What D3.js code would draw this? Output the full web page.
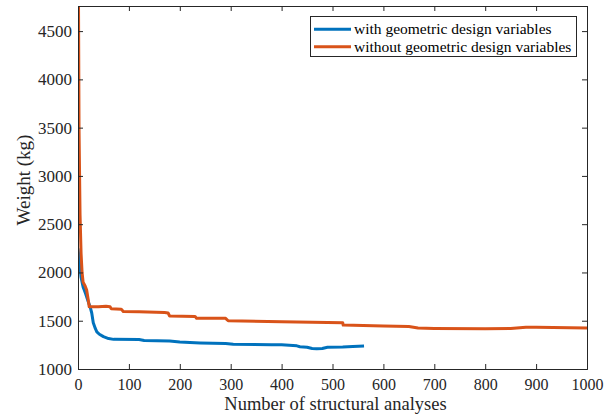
<!DOCTYPE html>
<html><head><meta charset="utf-8">
<script src="https://cdn.jsdelivr.net/npm/d3@7"></script>
<style>body{margin:0;background:#fff}svg{display:block}</style>
</head><body><svg id="c" width="613" height="419"></svg>
<script>
const xTicks = [0,100,200,300,400,500,600,700,800,900,1000];
const yTicks = [1000,1500,2000,2500,3000,3500,4000,4500];
const seriesNames = ["with geometric design variables","without geometric design variables"];
const seriesColors = ["#0072BD","#D95319"];
const withX = [0,3,6,10,15,20,24,27,30,34,37,42,50,60,70,120,130,180,200,230,240,290,305,380,400,430,436,450,460,469,480,490,520,540,562];
const withY = [2250,2100,1950,1850,1780,1700,1640,1580,1480,1420,1385,1360,1335,1315,1307,1305,1295,1290,1280,1272,1270,1265,1256,1252,1250,1240,1231,1225,1212,1210,1212,1225,1228,1233,1237];
const withoutX = [0,1,2,4,6,8,10,14,17,20,22,40,55,63,65,85,89,120,170,177,180,230,233,290,295,400,520,521,600,650,668,700,800,850,880,900,1000];
const withoutY = [4760,4760,3500,2600,2200,2000,1900,1860,1818,1720,1645,1645,1650,1645,1625,1620,1595,1592,1585,1580,1549,1545,1525,1525,1500,1490,1480,1455,1445,1440,1424,1420,1418,1420,1432,1432,1424];

const FONT = '"Liberation Serif", "Times New Roman", Times, serif';
const svg = d3.select("#c");
const L=78,R=587,T=6,B=369;
const x = d3.scaleLinear().domain([0,1000]).range([L,R]);
const y = d3.scaleLinear().domain([1000,4760]).range([B,T]);
const ax = "#262626";

const line = d3.line().x(d=>x(d[0])).y(d=>y(d[1])).curve(d3.curveLinear);
const data = [d3.zip(withX,withY), d3.zip(withoutX,withoutY)];
svg.append("defs").append("clipPath").attr("id","cp").append("rect").attr("x",L).attr("y",T).attr("width",R-L).attr("height",B-T);
data.forEach((d,i)=>{
  svg.append("path").attr("d",line(d)).attr("fill","none").attr("stroke",seriesColors[i]).attr("stroke-width",3).attr("stroke-linejoin","round").attr("clip-path","url(#cp)");
});

const tl = 5;
const gx = svg.append("g").attr("transform",`translate(0,${B})`).call(d3.axisBottom(x).tickValues(xTicks).tickSize(-tl).tickPadding(10).tickFormat(d3.format("d")));
const gy = svg.append("g").attr("transform",`translate(${L},0)`).call(d3.axisLeft(y).tickValues(yTicks).tickSize(-tl).tickPadding(6).tickFormat(d3.format("d")));
const gxt = svg.append("g").attr("transform",`translate(0,${T})`).call(d3.axisTop(x).tickValues(xTicks).tickSize(-tl).tickFormat(""));
const gyr = svg.append("g").attr("transform",`translate(${R},0)`).call(d3.axisRight(y).tickValues(yTicks).tickSize(-tl).tickFormat(""));
[gx,gy,gxt,gyr].forEach(g=>{
  g.attr("font-family",FONT);
  g.select(".domain").attr("stroke",ax).attr("stroke-width",1);
  g.selectAll(".tick line").attr("stroke",ax);
  g.selectAll(".tick text").attr("fill",ax).style("font-family",FONT);
});
gx.selectAll(".tick text").style("font-size","16px");
gy.selectAll(".tick text").style("font-size","17px");

svg.append("text").attr("x",(L+R)/2+3).attr("y",410).attr("text-anchor","middle").style("font-family",FONT).style("font-size","18.5px").attr("fill",ax).text("Number of structural analyses");
svg.append("text").attr("transform",`translate(30,180) rotate(-90)`).attr("text-anchor","middle").style("font-family",FONT).style("font-size","19px").attr("fill",ax).text("Weight (kg)");

const lg = svg.append("g");
lg.append("rect").attr("x",310.5).attr("y",16.5).attr("width",266).attr("height",40).attr("fill","#fff").attr("stroke",ax).attr("stroke-width",1);
seriesNames.forEach((n,i)=>{
  const yy = 29.3+i*17.4;
  lg.append("line").attr("x1",314).attr("x2",351).attr("y1",yy).attr("y2",yy).attr("stroke",seriesColors[i]).attr("stroke-width",3);
  lg.append("text").attr("x",354).attr("y",yy+5).style("font-family",FONT).style("font-size","15.5px").attr("fill","#000").text(n);
});
</script></body></html>
